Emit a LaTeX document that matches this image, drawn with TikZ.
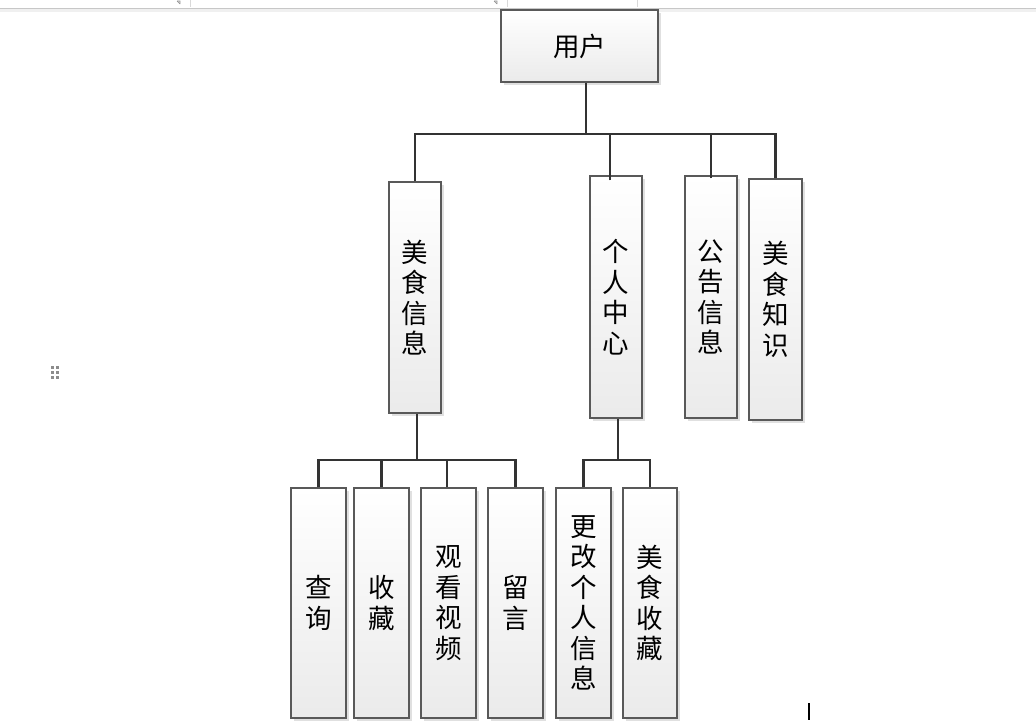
\documentclass[tikz,border=0pt]{standalone}
\usepackage{fontspec}
\usetikzlibrary{shadows}
\newfontfamily\cjk{Noto Sans CJK SC}
\begin{document}
\begin{tikzpicture}[x=1pt,y=-1pt,
  box/.style={draw=black!65,line width=1.1pt,top color=white,bottom color=black!8,
    inner sep=0pt,font=\cjk\fontsize{26.5}{30.5}\selectfont,align=center,
    drop shadow={shadow xshift=3pt,shadow yshift=-3pt,fill=black!12,opacity=1}},
  link/.style={draw=black!80,line width=2.2pt}]
\useasboundingbox (0,0) rectangle (1036,721);
\fill[white] (0,0) rectangle (1036,721);
% editor chrome
\draw[black!22,line width=1pt] (0,8.5) -- (1036,8.5);
\fill[black!6] (0,9) rectangle (1036,12);
\foreach \x in {190,507,637}{\draw[black!15,line width=0.6pt] (\x,0) -- (\x,7);}
\foreach \x in {180,497}{\draw[black!45,line width=0.6pt] (\x-3,1) -- (\x,1) -- (\x,4) (\x-3,1)--(\x,4);}
\foreach \px in {51,56}{\foreach \py in {366,371,376}{\fill[black!45] (\px,\py) rectangle ++(2.5,2.5);}}
\fill[black] (808,703) rectangle (810,720);
% boxes
\node[box,minimum width=157pt,minimum height=72pt] (root) at (579.5,46) {用户};
\node[box,minimum width=52pt,minimum height=231pt] (food) at (415,297.5) {美\\食\\信\\息};
\node[box,minimum width=52pt,minimum height=242pt] (me) at (616,297) {个\\人\\中\\心};
\node[box,minimum width=52pt,minimum height=242pt] (notice) at (711,297) {公\\告\\信\\息};
\node[box,minimum width=53pt,minimum height=241pt] (know) at (775.5,299.5) {美\\食\\知\\识};
\node[box,minimum width=55pt,minimum height=230pt] (q) at (318.5,603) {查\\询};
\node[box,minimum width=55pt,minimum height=230pt] (fav) at (381.5,603) {收\\藏};
\node[box,minimum width=55pt,minimum height=230pt] (video) at (448.5,603) {观\\看\\视\\频};
\node[box,minimum width=55pt,minimum height=230pt] (msg) at (515.5,603) {留\\言};
\node[box,minimum width=55pt,minimum height=230pt] (edit) at (583.5,603) {更\\改\\个\\人\\信\\息};
\node[box,minimum width=54pt,minimum height=230pt] (ffav) at (650,603) {美\\食\\收\\藏};
% connectors
\coordinate (j1) at (586,134);
\coordinate (j2) at (417,460);
\coordinate (j3) at (618,460);
\draw[link] (root.south -| j1) -- (j1);
\draw[link] (food.north) |- (know.north |- j1) -- (know.north);
\draw[link] ([xshift=-6pt]me.north) ++(0,5) -- ([xshift=-6pt]me.north |- j1);
\draw[link] (notice.north) ++(0,3) -- (notice.north |- j1);
\draw[link] (food.south -| j2) -- (j2);
\draw[link] (q.north) |- (msg.north |- j2) -- (msg.north);
\draw[link] (fav.north) -- (fav.north |- j2);
\draw[link] ([xshift=-1.5pt]video.north) -- ([xshift=-1.5pt]video.north |- j2);
\draw[link] (me.south -| j3) -- (j3);
\draw[link] (edit.north) |- (ffav.north |- j3) -- (ffav.north);
\end{tikzpicture}
\end{document}
